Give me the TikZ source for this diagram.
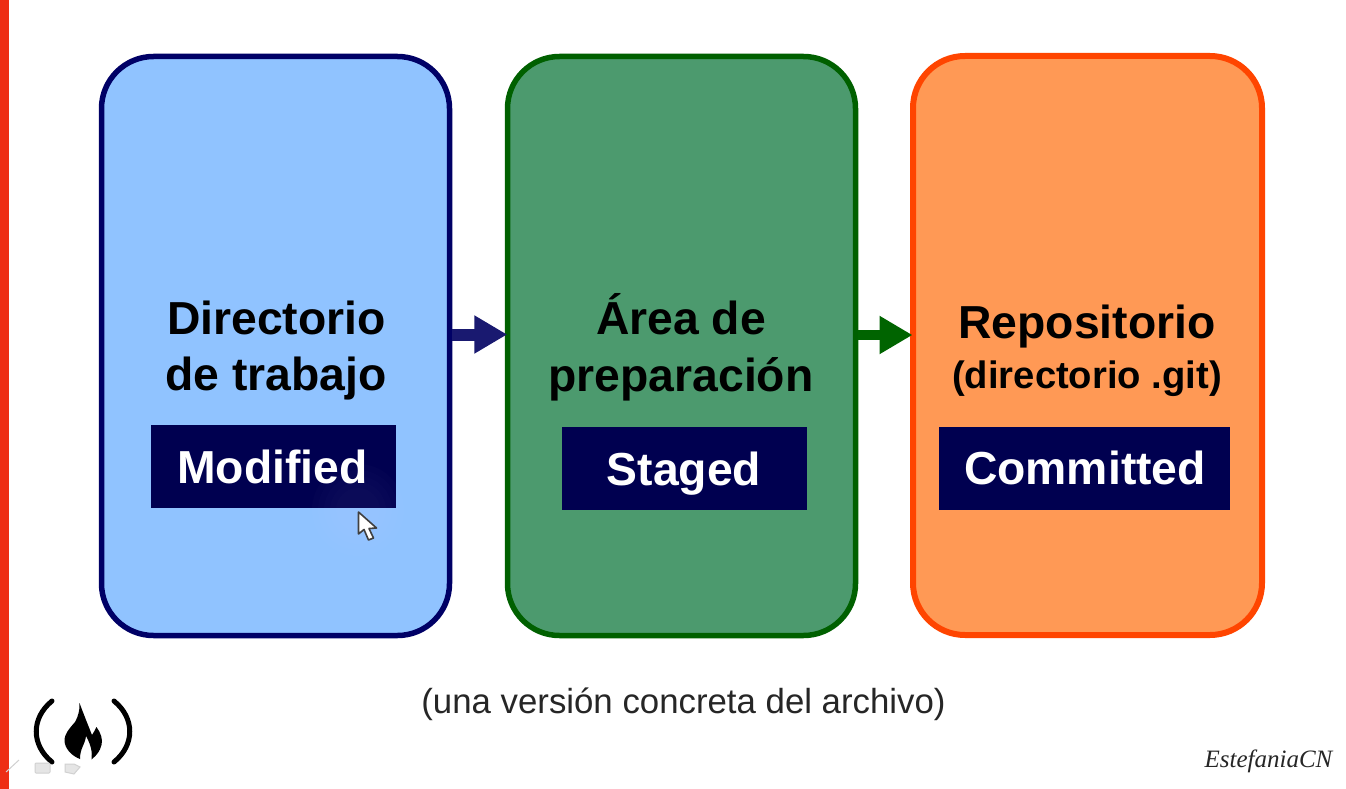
\documentclass[tikz,border=0pt]{standalone}
\usepackage{fontspec}
\setmainfont{Liberation Sans}
\newfontfamily\sigfont{Liberation Serif}
\usetikzlibrary{arrows.meta}
\definecolor{barred}{HTML}{EE2E14}
\definecolor{bluefill}{HTML}{90C3FF}
\definecolor{blueline}{HTML}{000066}
\definecolor{greenfill}{HTML}{4C9A6E}
\definecolor{greenline}{HTML}{006000}
\definecolor{orangefill}{HTML}{FF9955}
\definecolor{orangeline}{HTML}{FF4500}
\definecolor{tagfill}{HTML}{000050}
\definecolor{arrowblue}{HTML}{191970}
\definecolor{arrowgreen}{HTML}{006400}
\tikzset{
  stagebox/.style={draw,rounded corners=52pt,minimum width=#1,minimum height=579pt,inner sep=0pt,line width=5.5pt},
  tagbox/.style={fill=tagfill,inner sep=0pt,minimum height=83pt},
  headline/.style={anchor=base,font=\fontsize{46.3}{46}\selectfont\bfseries,inner sep=0pt},
  subline/.style={anchor=base,font=\fontsize{38.2}{38}\selectfont\bfseries,inner sep=0pt},
  tagtext/.style={anchor=base,text=white,font=\fontsize{46.3}{46}\selectfont\bfseries,inner sep=0pt},
  flow/.style={-{Triangle[length=33pt,width=36pt]},shorten >=-2.5pt},
  icon/.style={draw=black!18,fill=black!10,line width=1pt}
}
\begin{document}
\begin{tikzpicture}[x=1pt,y=-1pt]
\useasboundingbox (0,0) rectangle (1346,789);
\fill[white] (0,0) rectangle (1346,789);
\fill[barred] (0,0) rectangle (9,789);
% stage boxes
\node[stagebox=348pt,fill=bluefill,draw=blueline] (work) at (275.5,346) {};
\node[stagebox=348pt,fill=greenfill,draw=greenline] (stage) at (681.5,346) {};
\node[stagebox=349pt,fill=orangefill,draw=orangeline,line width=6pt] (repo) at (1087.5,345.5) {};
% connectors
\draw[flow,arrowblue,draw=arrowblue,line width=12pt] ([yshift=11.5pt]work.east) -- ([yshift=11.5pt]stage.west);
\draw[flow,arrowgreen,draw=arrowgreen,line width=10pt] ([yshift=11pt]stage.east) -- ([yshift=10.5pt]repo.west);
% tags
\node[tagbox,minimum width=245pt] (tagA) at (273.5,466.5) {};
\node[tagbox,minimum width=245pt] (tagB) at (684.5,468) {};
\node[tagbox,minimum width=291pt] (tagC) at (1084.5,468) {};
% cursor glow
\foreach \r in {46,40,34,28,22}{\fill[white,opacity=0.012] (358,510) circle (\r);}
% texts
\node[headline] (t1) at (276.5,334) {Directorio};
\node[headline] (t2) at (276,390) {de trabajo};
\node[tagtext] (t3) at (272.5,483) {Modified};
\node[headline] (t4) at (681,334) {Área de};
\node[headline] (t5) at (681,391) {preparación};
\node[tagtext] (t6) at (684,485) {Staged};
\node[headline] (t7) at (1087,338.5) {Repositorio};
\node[subline] (t8) at (1087,388) {(directorio .git)};
\node[tagtext] (t9) at (1085,484) {Committed};
\node[anchor=base,inner sep=0pt,font=\fontsize{34.8}{34.8}\selectfont,text=black!85] (note) at (683.5,713) {(una versión concreta del archivo)};
\node[anchor=base,inner sep=0pt,font=\fontsize{25}{25}\selectfont\sigfont\itshape,text=black!85] (sig) at (1268.5,767) {EstefaniaCN};
% mouse cursor
\draw[fill=white,draw=black!75,line width=1.6pt,line join=round]
  (358.5,512) -- (358.5,534) -- (364,529.5) -- (368.5,540) -- (373.5,538) -- (369,528.5) -- (376.5,528) -- cycle;
% logo
\draw[line width=5pt,line cap=round] (52,701) .. controls (31,718) and (31,745) .. (52,762);
\draw[line width=5pt,line cap=round] (114,701) .. controls (135,718) and (135,745) .. (114,762);
\fill[black] (79.5,703) .. controls (84,715) and (88,725) .. (92,735)
  .. controls (94,732) and (95,730) .. (96.5,727)
  .. controls (101,733) and (103,740) .. (101.5,745)
  .. controls (100,751) and (97,755) .. (91.5,759.5)
  .. controls (92.5,752) and (91,745) .. (86,736)
  .. controls (85,745) and (80,748) .. (80,759)
  .. controls (72,756) and (65,749) .. (64.5,741)
  .. controls (64.5,733) and (70,728) .. (75,722)
  .. controls (78,717) and (80,710) .. (79.5,703) -- cycle;
% faint toolbar icons
\draw[icon] (6,772) -- (19,760);
\draw[icon,rounded corners=1pt] (35,763) rectangle (50,773);
\draw[icon] (65,764) -- (74,764) -- (80,767) -- (74,774) -- (65,772) -- cycle;
\end{tikzpicture}
\end{document}
